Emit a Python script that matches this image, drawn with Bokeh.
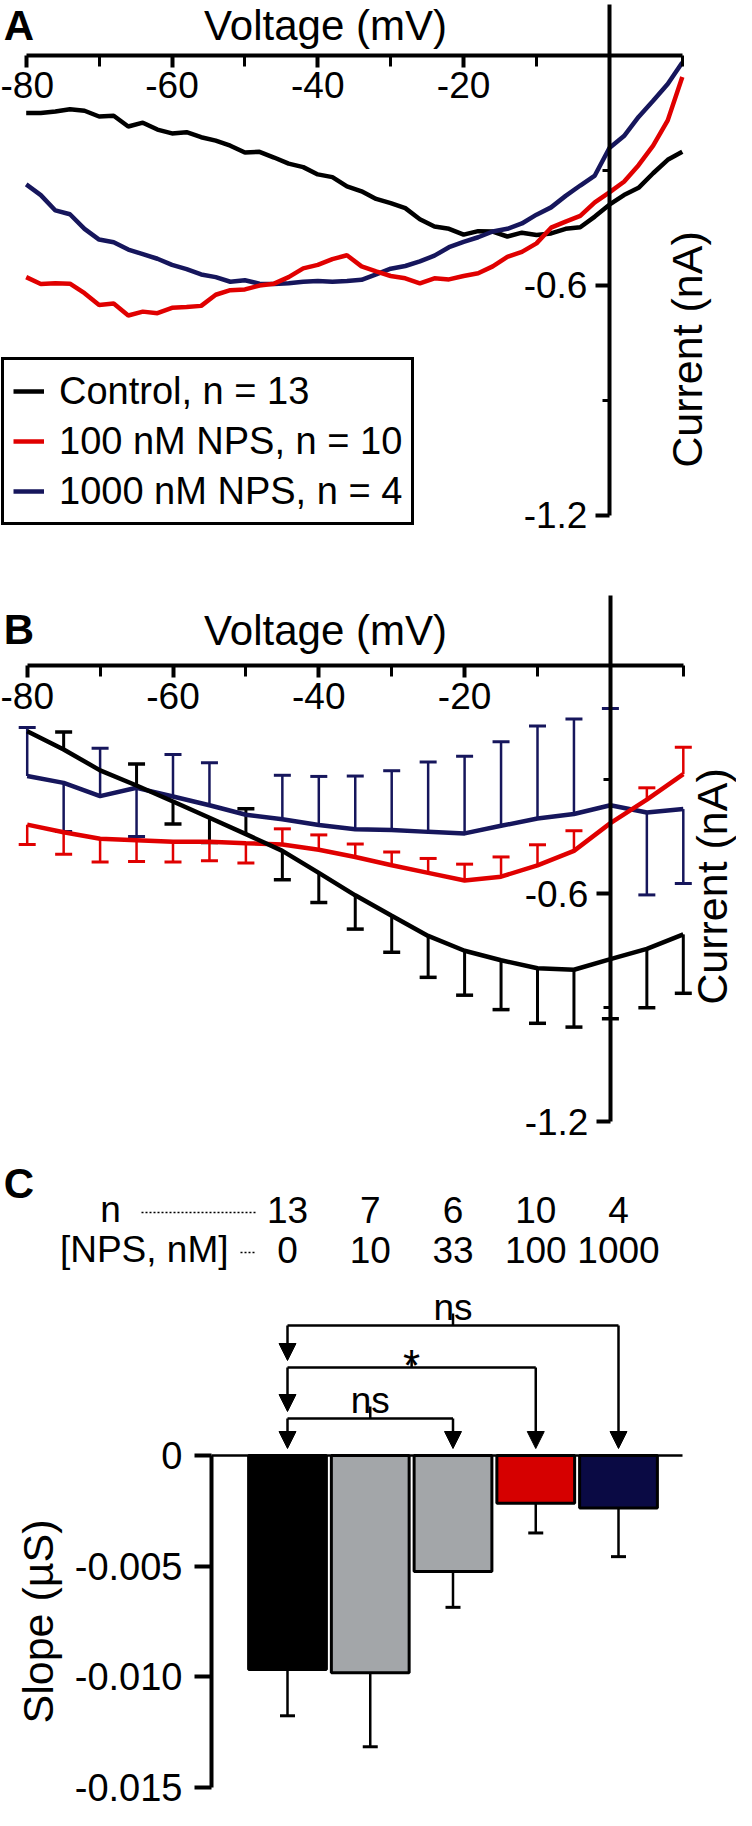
import math
from bokeh.plotting import figure
from bokeh.models import (LinearAxis, FixedTicker, Range1d, Label, Legend, LegendItem,
                          ColumnDataSource, Arrow, NormalHead, CustomJSTickFormatter)
from bokeh.layouts import column
from bokeh.core.properties import value
from bokeh.embed import file_html
from bokeh.resources import INLINE

FONT = "Liberation Sans"

# ---------------------------------------------------------------- data
# Panel A: mean I-V traces (current in nA vs voltage in mV)
VOLT_A = [-80, -78, -76, -74, -72, -70, -68, -66, -64, -62, -60, -58, -56, -54, -52,
          -50, -48, -46, -44, -42, -40, -38, -36, -34, -32, -30, -28, -26, -24, -22,
          -20, -18, -16, -14, -12, -10, -8, -6, -4, -2, 0, 2, 4, 6, 8, 10]
CTRL_A = [-0.151, -0.151, -0.147, -0.141, -0.145, -0.160, -0.158, -0.186, -0.176, -0.194,
          -0.204, -0.201, -0.214, -0.223, -0.236, -0.254, -0.252, -0.267, -0.283, -0.292,
          -0.311, -0.318, -0.342, -0.355, -0.375, -0.386, -0.399, -0.428, -0.447, -0.453,
          -0.468, -0.459, -0.460, -0.473, -0.463, -0.469, -0.465, -0.453, -0.449, -0.421,
          -0.390, -0.365, -0.346, -0.308, -0.273, -0.252]
NPS100_A = [-0.579, -0.597, -0.595, -0.596, -0.621, -0.652, -0.648, -0.679, -0.669, -0.673,
            -0.659, -0.657, -0.654, -0.625, -0.613, -0.611, -0.601, -0.596, -0.579, -0.556,
            -0.547, -0.532, -0.522, -0.551, -0.564, -0.576, -0.582, -0.595, -0.582, -0.585,
            -0.576, -0.569, -0.551, -0.526, -0.513, -0.491, -0.450, -0.434, -0.419, -0.384,
            -0.358, -0.330, -0.287, -0.236, -0.170, -0.057]
NPS1000_A = [-0.337, -0.365, -0.405, -0.415, -0.453, -0.481, -0.488, -0.507, -0.519, -0.531,
             -0.547, -0.558, -0.572, -0.579, -0.591, -0.587, -0.596, -0.597, -0.595, -0.591,
             -0.589, -0.591, -0.589, -0.586, -0.572, -0.557, -0.550, -0.538, -0.523, -0.501,
             -0.487, -0.475, -0.460, -0.453, -0.439, -0.416, -0.397, -0.367, -0.340, -0.314,
             -0.242, -0.211, -0.161, -0.119, -0.075, -0.019]

# Panel B: mean current at 5 mV steps, with one-sided SEM
# (signed: + drawn upward, - drawn downward, None = not shown)
VOLT_B = [-80, -75, -70, -65, -60, -55, -50, -45, -40, -35, -30, -25, -20, -15, -10, -5, 0, 5, 10]
CTRL_B = [-0.172, -0.220, -0.275, -0.315, -0.357, -0.400, -0.443, -0.487, -0.545, -0.604,
          -0.658, -0.711, -0.750, -0.775, -0.796, -0.800, -0.772, -0.745, -0.707]
CTRL_B_ERR = [None, 0.046, None, 0.057, -0.059, -0.065, 0.067, -0.076, -0.078, -0.089,
              -0.096, -0.109, -0.117, -0.130, -0.145, -0.151, -0.157, -0.155, -0.155]
NPS100_B = [-0.418, -0.438, -0.455, -0.459, -0.463, -0.463, -0.467, -0.470, -0.484, -0.503,
            -0.525, -0.545, -0.565, -0.555, -0.525, -0.487, -0.414, -0.352, -0.285]
NPS100_B_ERR = [-0.052, -0.058, -0.061, -0.056, -0.053, -0.050, -0.052, 0.041, 0.039, 0.034,
                0.035, 0.038, 0.043, 0.052, 0.054, 0.053, None, 0.031, 0.071]
NPS1000_B = [-0.290, -0.308, -0.343, -0.321, -0.344, -0.367, -0.392, -0.404, -0.419, -0.430,
             -0.432, -0.437, -0.441, -0.421, -0.402, -0.390, -0.367, -0.386, -0.377]
NPS1000_B_ERR = [0.128, -0.128, 0.126, -0.128, 0.111, 0.112, None, 0.116, 0.128, 0.140,
                 0.156, 0.184, 0.203, 0.221, 0.244, 0.250, 0.255, -0.217, -0.196]

# Panel C: slope per NPS concentration
CONC = ["0", "10", "33", "100", "1000"]
N_CELLS = [13, 7, 6, 10, 4]
SLOPE = [-0.00967, -0.00982, -0.00524, -0.00216, -0.00237]
SLOPE_SEM = [0.00209, 0.00334, 0.00162, 0.00134, 0.00220]
COMPARISONS = [(0, 2, "ns"), (0, 3, "*"), (0, 4, "ns")]

X_MAJOR = [-80, -60, -40, -20]
X_MINOR = [-70, -50, -30, -10, 10]
I_MAJOR = [-0.6, -1.2]
I_MINOR = [-0.3, -0.9]
SLOPE_TICKS = [0, -0.005, -0.010, -0.015]

# ---------------------------------------------------------------- style
BLACK = "#000000"
RED = "#E00000"
NAVY = "#16165C"
BAR_COLORS = ["#000000", "#A3A6A9", "#A3A6A9", "#D60000", "#0A0A44"]

PAGE_W = 736          # 752 window - 2 * 8 px margin
REF_L, REF_R = 8, 744  # page content extent in reference pixels


class Mapper:
    """Maps reference pixel positions into a panel's data coordinates."""
    def __init__(self, top, bottom, x0_val, x0_px, x_scale, y0_px, y_scale):
        self.top, self.bottom = top, bottom
        self.x0_val, self.x0_px, self.x_scale = x0_val, x0_px, x_scale
        self.y0_px, self.y_scale = y0_px, y_scale

    def x(self, px):
        return self.x0_val + (px - self.x0_px) / self.x_scale

    def y(self, py):
        return (self.y0_px - py) / self.y_scale


def make_fig(m):
    p = figure(width=PAGE_W, height=m.bottom - m.top,
               x_range=Range1d(m.x(REF_L), m.x(REF_R)),
               y_range=Range1d(m.y(m.bottom), m.y(m.top)),
               x_axis_type=None, y_axis_type=None,
               toolbar_location=None, output_backend="svg",
               min_border_left=0, min_border_right=0, min_border_top=0, min_border_bottom=0)
    p.title.visible = False
    p.outline_line_color = None
    p.background_fill_color = "white"
    p.border_fill_color = "white"
    return p


def style_axis(ax, label_size):
    ax.axis_line_color = "black"
    ax.axis_line_width = 4
    ax.major_tick_line_color = "black"
    ax.major_tick_line_width = 4
    ax.minor_tick_line_color = "black"
    ax.minor_tick_line_width = 3
    ax.major_tick_in = 0
    ax.minor_tick_in = 0
    ax.major_label_text_font = FONT
    ax.major_label_text_font_size = label_size
    ax.major_label_text_color = "black"
    ax.axis_label_text_font = FONT
    ax.axis_label_text_font_style = "normal"
    ax.axis_label_text_color = "black"


def add_label(p, x, y, text, size, bold=False, angle=0.0):
    p.add_layout(Label(x=x, y=y, text=text, text_font=FONT, text_font_size=size,
                       text_font_style="bold" if bold else "normal", text_color="black",
                       text_align="center", text_baseline="middle", angle=angle))


def iv_axes(p, m, y_top_px):
    xa = LinearAxis(fixed_location=0, bounds=(VOLT_A[0], VOLT_A[-1]),
                    ticker=FixedTicker(ticks=X_MAJOR, minor_ticks=X_MINOR),
                    formatter=CustomJSTickFormatter(code="return tick.toFixed(0)"))
    style_axis(xa, "37px")
    xa.major_tick_out = 12
    xa.minor_tick_out = 11
    xa.major_label_standoff = 5
    p.add_layout(xa, "below")
    ya = LinearAxis(fixed_location=0, bounds=(I_MAJOR[-1], m.y(y_top_px)),
                    ticker=FixedTicker(ticks=I_MAJOR, minor_ticks=I_MINOR),
                    formatter=CustomJSTickFormatter(code="return tick.toFixed(1)"))
    style_axis(ya, "37px")
    ya.major_tick_out = 14
    ya.minor_tick_out = 7
    ya.major_label_standoff = 8
    p.add_layout(ya, "left")


# ---------------------------------------------------------------- panel A
mA = Mapper(top=8, bottom=590, x0_val=-80, x0_px=33.7, x_scale=7.29, y0_px=62.7, y_scale=383.3)
pA = make_fig(mA)
iv_axes(pA, mA, 12)

rA_ctrl = pA.line(VOLT_A, CTRL_A, line_color=BLACK, line_width=4.5)
rA_1000 = pA.line(VOLT_A, NPS1000_A, line_color=NAVY, line_width=4.5)
rA_100 = pA.line(VOLT_A, NPS100_A, line_color=RED, line_width=4.5)

legA = Legend(items=[
    LegendItem(label=f"Control, n = {N_CELLS[0]}", renderers=[rA_ctrl]),
    LegendItem(label=f"{CONC[3]} nM NPS, n = {N_CELLS[3]}", renderers=[rA_100]),
    LegendItem(label=f"{CONC[4]} nM NPS, n = {N_CELLS[4]}", renderers=[rA_1000]),
], location=(1, 57))
legA.label_text_font = FONT
legA.label_text_font_size = "38px"
legA.label_text_color = "black"
legA.label_height = 44
legA.glyph_height = 44
legA.glyph_width = 31
legA.label_standoff = 15
legA.spacing = 6
legA.padding = 9
legA.margin = 0
legA.border_line_color = "black"
legA.border_line_alpha = 1.0
legA.border_line_width = 3
legA.background_fill_color = "white"
legA.background_fill_alpha = 1.0
pA.add_layout(legA)

add_label(pA, mA.x(26.5), mA.y(32.5), "A", "42px", bold=True)
add_label(pA, mA.x(333), mA.y(32.5), "Voltage (mV)", "42px")
add_label(pA, mA.x(694), mA.y(357), "Current (nA)", "43px", angle=math.pi / 2)

# ---------------------------------------------------------------- panel B
mB = Mapper(top=590, bottom=1150, x0_val=-80, x0_px=34.7, x_scale=7.29, y0_px=673.4, y_scale=379.8)
pB = make_fig(mB)
iv_axes(pB, mB, 603)


def err_bars(p, volts, means, errs, color, width):
    xs, y0, y1 = [], [], []
    for v, mval, e in zip(volts, means, errs):
        if e is None:
            continue
        xs.append(v)
        y0.append(mval)
        y1.append(mval + e)
    p.segment(x0=xs, y0=y0, x1=xs, y1=y1, line_color=color, line_width=width)
    p.scatter(xs, y1, marker="dash", size=17, line_color=color, line_width=width + 0.5)


err_bars(pB, VOLT_B, NPS1000_B, NPS1000_B_ERR, NAVY, 2.5)
err_bars(pB, VOLT_B, CTRL_B, CTRL_B_ERR, BLACK, 3)
err_bars(pB, VOLT_B, NPS100_B, NPS100_B_ERR, RED, 2.5)
pB.line(VOLT_B, NPS1000_B, line_color=NAVY, line_width=4.5)
pB.line(VOLT_B, NPS100_B, line_color=RED, line_width=4.5)
pB.line(VOLT_B, CTRL_B, line_color=BLACK, line_width=4.5)

add_label(pB, mB.x(26.5), mB.y(637), "B", "42px", bold=True)
add_label(pB, mB.x(333), mB.y(638), "Voltage (mV)", "42px")
add_label(pB, mB.x(719), mB.y(894), "Current (nA)", "43px", angle=math.pi / 2)

# ---------------------------------------------------------------- panel C
mC = Mapper(top=1150, bottom=1818, x0_val=0, x0_px=295, x_scale=82.75, y0_px=1463, y_scale=22133)
pC = make_fig(mC)
idx = list(range(len(CONC)))

pC.vbar(x=idx, width=0.94, top=0, bottom=SLOPE, fill_color=BAR_COLORS,
        line_color="black", line_width=3)
lows = [s - e for s, e in zip(SLOPE, SLOPE_SEM)]
pC.segment(x0=idx, y0=SLOPE, x1=idx, y1=lows, line_color="black", line_width=2.5)
pC.scatter(idx, lows, marker="dash", size=15, line_color="black", line_width=3)

yc = LinearAxis(fixed_location=mC.x(219), bounds=(SLOPE_TICKS[-1], SLOPE_TICKS[0]),
                ticker=FixedTicker(ticks=SLOPE_TICKS, minor_ticks=[]),
                formatter=CustomJSTickFormatter(code="return Math.abs(tick) < 1e-12 ? '0' : tick.toFixed(3)"))
style_axis(yc, "38px")
yc.major_tick_out = 17
yc.minor_tick_out = 0
yc.major_label_standoff = 12
pC.add_layout(yc, "left")
add_label(pC, mC.x(45), (SLOPE_TICKS[0] + SLOPE_TICKS[-1]) / 2, "Slope (\u00b5S)", "43px",
          angle=math.pi / 2)

xc = LinearAxis(fixed_location=0, bounds=(mC.x(219), mC.x(689.5)),
                ticker=FixedTicker(ticks=[], minor_ticks=[]))
style_axis(xc, "0px")
xc.axis_line_width = 2.5
xc.major_tick_out = 0
xc.minor_tick_out = 0
pC.add_layout(xc, "below")

# header rows (n and concentration), aligned with the bars
pC.text(x=idx, y=[mC.y(1217)] * len(idx), text=[str(n) for n in N_CELLS],
        text_align="center", text_baseline="middle", text_color="black",
        text_font=value(FONT), text_font_size=value("37px"))
pC.text(x=idx, y=[mC.y(1257)] * len(idx), text=CONC,
        text_align="center", text_baseline="middle", text_color="black",
        text_font=value(FONT), text_font_size=value("37px"))
pC.text(x=[mC.x(118)], y=[mC.y(1217)], text=["n"], text_align="center",
        text_baseline="middle", text_color="black",
        text_font=value(FONT), text_font_size=value("37px"))
pC.text(x=[mC.x(236)], y=[mC.y(1257)], text=["[NPS, nM]"], text_align="right",
        text_baseline="middle", text_color="black",
        text_font=value(FONT), text_font_size=value("37px"))
pC.segment(x0=[mC.x(149), mC.x(248)], y0=[mC.y(1220), mC.y(1260)],
           x1=[mC.x(263), mC.x(263)], y1=[mC.y(1220), mC.y(1260)],
           line_color="black", line_width=1.5, line_dash="2 2")

# significance brackets
LEVEL_PX = [1426, 1375, 1333]
LABEL_DY_PX = [18, 2, 18]
LABEL_SIZE = ["37px", "44px", "37px"]
TIP_PX = 1456
TICK_PX = 12
hx0, hx1, hy, tx, ty0, ty1 = [], [], [], [], [], []
ax0, ay0, ax1, ay1 = [], [], [], []
for k, (i, j, txt) in enumerate(COMPARISONS):
    lvl = mC.y(LEVEL_PX[k])
    hx0.append(i); hx1.append(j); hy.append(lvl)
    mid = (i + j) / 2
    tx.append(mid); ty0.append(lvl); ty1.append(mC.y(LEVEL_PX[k] - TICK_PX))
    left_tip = mC.y(TIP_PX) if k == 0 else mC.y(LEVEL_PX[k - 1] - 7)
    ax0 += [i, j]; ay0 += [lvl, lvl]; ax1 += [i, j]; ay1 += [left_tip, mC.y(TIP_PX)]
    pC.text(x=[mid], y=[mC.y(LEVEL_PX[k] - LABEL_DY_PX[k])], text=[txt],
            text_align="center", text_baseline="alphabetic", text_color="black",
            text_font=value(FONT), text_font_size=value(LABEL_SIZE[k]))
pC.segment(x0=hx0, y0=hy, x1=hx1, y1=hy, line_color="black", line_width=2.5)
pC.segment(x0=tx, y0=ty0, x1=tx, y1=ty1, line_color="black", line_width=2.5)
arrow_src = ColumnDataSource(dict(x0=ax0, y0=ay0, x1=ax1, y1=ay1))
pC.add_layout(Arrow(end=NormalHead(size=17, fill_color="black", line_color="black", line_width=1),
                    source=arrow_src, x_start="x0", y_start="y0", x_end="x1", y_end="y1",
                    line_color="black", line_width=2.5))

add_label(pC, mC.x(26.5), mC.y(1191), "C", "42px", bold=True)

layout = column(pA, pB, pC, spacing=0)
open("out.html", "w").write(file_html(layout, INLINE))
